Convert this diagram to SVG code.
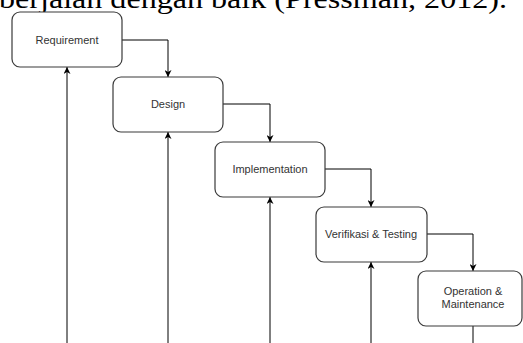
<svg xmlns="http://www.w3.org/2000/svg" width="523" height="343" viewBox="0 0 523 343">
<style>
.box{fill:#fff;stroke:#3a3a3a;stroke-width:1.2}
.lbl{font-family:"Liberation Sans",Arial,sans-serif;font-size:11px;fill:#333;text-anchor:middle}
.edge{fill:none;stroke:#000;stroke-width:1}
.cap{font-family:"Liberation Serif","Times New Roman",serif;font-size:28px;fill:#000}
</style>
<defs>
<marker id="arr" viewBox="0 0 10 10" refX="10" refY="5" markerWidth="7" markerHeight="7" markerUnits="userSpaceOnUse" orient="auto">
<path d="M0,0 L10,5 L0,10 L3,5 Z" fill="#000"/>
</marker>
</defs>
<rect width="523" height="343" fill="#fff"/>
<text class="cap" x="-1" y="8" textLength="508" lengthAdjust="spacingAndGlyphs">berjalan dengan baik (Pressman, 2012).</text>
<g id="connectors">
<path class="edge" d="M122,40 H168 V77" marker-end="url(#arr)"/>
<path class="edge" d="M223,104 H270 V142" marker-end="url(#arr)"/>
<path class="edge" d="M325,169 H371 V207" marker-end="url(#arr)"/>
<path class="edge" d="M427,234 H473 V271" marker-end="url(#arr)"/>
<path class="edge" d="M67,343 V67" marker-end="url(#arr)"/>
<path class="edge" d="M168,343 V132" marker-end="url(#arr)"/>
<path class="edge" d="M270,343 V197" marker-end="url(#arr)"/>
<path class="edge" d="M371,343 V262" marker-end="url(#arr)"/>
<path class="edge" d="M473,326 V343"/>
</g>
<g id="requirement">
<rect class="box" x="12" y="12" width="110" height="55" rx="8"/>
<text class="lbl" x="67" y="44">Requirement</text>
</g>
<g id="design">
<rect class="box" x="113" y="77" width="110" height="55" rx="8"/>
<text class="lbl" x="168" y="108">Design</text>
</g>
<g id="implementation">
<rect class="box" x="215" y="142" width="110" height="55" rx="8"/>
<text class="lbl" x="270" y="173">Implementation</text>
</g>
<g id="verifikasi">
<rect class="box" x="316" y="207" width="111" height="55" rx="8"/>
<text class="lbl" x="371" y="238">Verifikasi &amp; Testing</text>
</g>
<g id="operation">
<rect class="box" x="418" y="271" width="104" height="55" rx="8"/>
<text class="lbl" x="473" y="295">Operation &amp;</text>
<text class="lbl" x="473" y="308">Maintenance</text>
</g>
</svg>
